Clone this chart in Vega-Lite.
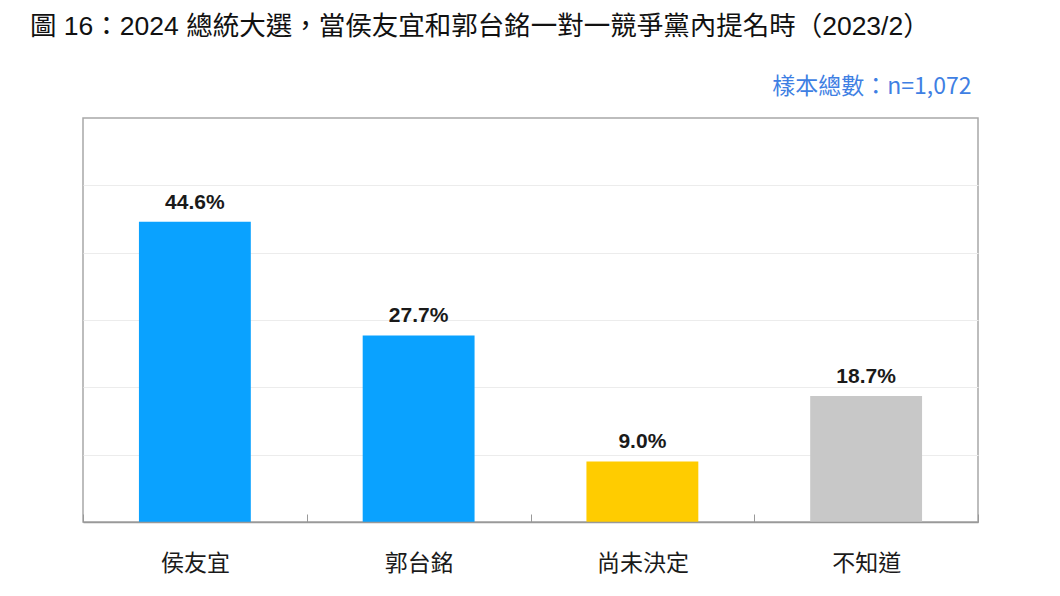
{
  "$schema": "https://vega.github.io/schema/vega-lite/v6.json",
  "autosize": {"type": "none"},
  "width": 895,
  "height": 404,
  "padding": {"left": 83, "top": 118, "right": 82, "bottom": 74},
  "background": "white",
  "title": {
    "text": "圖 16：2024 總統大選，當侯友宜和郭台銘一對一競爭黨內提名時（2023/2）",
    "anchor": "start",
    "frame": "group",
    "dx": -53,
    "offset": 35,
    "font": "Liberation Sans, Noto Sans CJK TC",
    "fontSize": 26.5,
    "fontWeight": "normal",
    "color": "#111111"
  },
  "data": {
    "values": [
      {"option": "侯友宜", "pct": 44.6, "label": "44.6%", "group": "侯友宜"},
      {"option": "郭台銘", "pct": 27.7, "label": "27.7%", "group": "郭台銘"},
      {"option": "尚未決定", "pct": 9.0, "label": "9.0%", "group": "尚未決定"},
      {"option": "不知道", "pct": 18.7, "label": "18.7%", "group": "不知道"}
    ]
  },
  "resolve": {"axis": {"x": "independent"}},
  "layer": [
    {
      "mark": {"type": "bar", "width": {"band": 0.5}},
      "encoding": {
        "x": {
          "field": "option",
          "type": "nominal",
          "sort": null,
          "scale": {"paddingInner": 0, "paddingOuter": 0},
          "axis": {
            "title": null,
            "orient": "bottom",
            "labelAngle": 0,
            "labelFont": "Noto Sans CJK TC",
            "labelFontSize": 23,
            "labelColor": "#1a1a1a",
            "labelPadding": 38,
            "domainColor": "#999999",
            "domainWidth": 1.5,
            "ticks": true,
            "tickBand": "extent",
            "tickSize": -8,
            "tickWidth": 1,
            "tickColor": "#999999",
            "grid": false,
            "zindex": 1
          }
        },
        "y": {
          "field": "pct",
          "type": "quantitative",
          "scale": {"domain": [0, 60], "nice": false},
          "axis": {
            "title": null,
            "labels": false,
            "ticks": false,
            "domain": false,
            "grid": true,
            "gridColor": "#ececec",
            "gridWidth": 1,
            "values": [10, 20, 30, 40, 50]
          }
        },
        "color": {
          "field": "group",
          "type": "nominal",
          "scale": {
            "domain": ["侯友宜", "郭台銘", "尚未決定", "不知道"],
            "range": ["#0aa2ff", "#0aa2ff", "#ffcc00", "#c8c8c8"]
          },
          "legend": null
        }
      }
    },
    {
      "mark": {
        "type": "text",
        "baseline": "alphabetic",
        "dy": -13,
        "font": "Liberation Sans",
        "fontSize": 21,
        "fontWeight": "bold",
        "color": "#1a1a1a"
      },
      "encoding": {
        "x": {
          "field": "option",
          "type": "nominal",
          "sort": null,
          "axis": {
            "orient": "top",
            "title": "樣本總數：n=1,072",
            "titleFont": "Noto Sans CJK TC",
            "titleFontSize": 23,
            "titleFontWeight": "normal",
            "titleColor": "#3f7fe3",
            "titleAlign": "right",
            "titleX": 888,
            "titlePadding": 20,
            "labels": false,
            "ticks": false,
            "domain": false,
            "grid": false
          }
        },
        "y": {"field": "pct", "type": "quantitative"},
        "text": {"field": "label"}
      }
    }
  ],
  "config": {
    "view": {"stroke": "#a8a8a8", "strokeWidth": 1.5}
  }
}
